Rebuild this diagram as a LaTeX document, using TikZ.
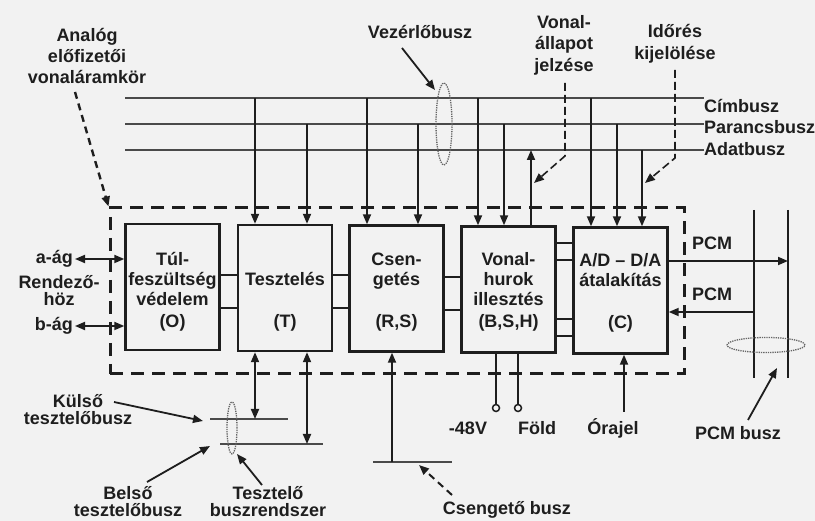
\documentclass[tikz,border=0pt]{standalone}
\usepackage{fontspec}
\setmainfont{Liberation Sans}
\usetikzlibrary{arrows.meta,shapes.geometric}
\definecolor{ink}{HTML}{1E1E1E}
\definecolor{paper}{HTML}{F2F2F2}
\definecolor{busc}{HTML}{4A4A4A}
\begin{document}
\begin{tikzpicture}[x=1pt,y=-1pt,
  >={Triangle[length=10pt,width=8pt]},
  lab/.style={font=\fontsize{18}{20}\selectfont\bfseries, text=ink, align=center, inner sep=0pt},
  tight/.style={lab, font=\fontsize{18}{17}\selectfont\bfseries},
  toplab/.style={lab, font=\fontsize{18}{21.5}\selectfont\bfseries},
  blk/.style={draw=ink, line width=2.4pt, minimum width=94pt, minimum height=126pt, inner sep=0pt},
  outline/.style={draw=ink, line width=3pt, dash pattern=on 13pt off 8pt, minimum width=574pt, minimum height=166pt, inner sep=0pt},
  bus/.style={draw=busc, line width=2.4pt},
  wire/.style={draw=ink, line width=1.8pt},
  arr/.style={wire, ->},
  darr/.style={wire, <->},
  link/.style={draw=ink, line width=1.5pt},
  dsh/.style={draw=ink, line width=1.6pt, dash pattern=on 8pt off 4pt, ->},
  dshb/.style={draw=ink, line width=2.4pt, dash pattern=on 7pt off 5pt, ->},
  ring/.style={ellipse, draw=black!60, line width=1.3pt, densely dotted, inner sep=0pt},
  term/.style={circle, draw=ink, line width=1.5pt, fill=paper, minimum size=7pt, inner sep=0pt},
]
\fill[paper] (0,0) rectangle (815,521);
\useasboundingbox (0,0) rectangle (815,521);

% frame
\node[outline] (frm) at (397,291) {};

% boxes
\node[blk] (O) at (172.5,287) {};
\node[blk] (T) at (285,288) {};
\node[blk] (RS) at (396.5,288.5) {};
\node[blk] (BSH) at (508.5,289.5) {};
\node[blk] (C) at (620.5,290.5) {};

\node[lab] (tO) at (172.5,292) {Túl-\\feszültség\\védelem\\[2pt](O)};
\node[lab] (tT) at (285,302) {Tesztelés\\[22pt](T)};
\node[lab] (tRS) at (396.5,292) {Csen-\\getés\\[22pt](R,S)};
\node[lab] (tBSH) at (508.5,292) {Vonal-\\hurok\\illesztés\\[2pt](B,S,H)};
\node[lab] (tC) at (620.5,292.5) {A/D – D/A\\átalakítás\\[22pt](C)};

% links between boxes
\foreach \y in {275,308} \draw[link] (O.east |- 0,\y) -- (T.west |- 0,\y);
\foreach \y in {275,308} \draw[link] (T.east |- 0,\y) -- (RS.west |- 0,\y);
\foreach \y in {277,310} \draw[link] (RS.east |- 0,\y) -- (BSH.west |- 0,\y);
\foreach \y in {243,260,319,336} \draw[link] (BSH.east |- 0,\y) -- (C.west |- 0,\y);

% buses
\coordinate (cimL) at (125,98);
\coordinate (parL) at (125,124);
\coordinate (adatL) at (125,150);
\node[lab, anchor=west] (cim) at (704,106) {Címbusz};
\node[lab, anchor=west] (par) at (704,127) {Parancsbusz};
\node[lab, anchor=west] (adat) at (704,149) {Adatbusz};
\draw[bus] (cimL) -- (cimL -| cim.west);
\draw[bus] (parL) -- (parL -| par.west);
\draw[bus] (adatL) -- (adatL -| adat.west);

\foreach \x/\b/\t in {255/cimL/T, 307/parL/T, 367/cimL/RS, 418/parL/RS, 478/cimL/BSH, 504/parL/BSH, 591/cimL/C, 617/parL/C, 642/adatL/C}
  \draw[arr] (\x,0 |- \b) -- (\x,0 |- \t.north);
\draw[arr] (531,0 |- BSH.north) -- (531,0 |- adatL);

% top labels
\node[lab] (vez) at (420,32) {Vezérlőbusz};
\node[ring, minimum width=16pt, minimum height=82pt] (e1) at (444,124) {};
\coordinate (vezA) at (402,48);
\coordinate (vezB) at (435,90);
\draw[arr] (vezA) -- (vezB);

\node[toplab] (vap) at (564,45) {Vonal-\\állapot\\jelzése};
\coordinate (vapA) at (565,83);
\coordinate (vapB) at (565,156);
\coordinate (vapC) at (534,183);
\draw[dsh] (vapA) -- (vapB) -- (vapC);

\node[toplab] (ido) at (675,44) {Időrés\\kijelölése};
\coordinate (idoA) at (675,70);
\coordinate (idoB) at (675,158);
\coordinate (idoC) at (645,183);
\draw[dsh] (idoA) -- (idoB) -- (idoC);

\node[toplab, font=\fontsize{18}{21}\selectfont\bfseries] (ana) at (87,56) {Analóg\\előfizetői\\vonaláramkör};
\coordinate (anaA) at (75,92);
\draw[dshb] (anaA) -- (frm.north west);

% left
\node[lab, anchor=east] (aag) at (73,259) {a-ág};
\node[tight] (rend) at (59,291) {Rendező-\\höz};
\node[lab, anchor=east] (bag) at (73,326) {b-ág};
\draw[darr] ([xshift=2pt]aag.east) -- (O.west |- aag.east);
\draw[darr] ([xshift=2pt]bag.east) -- (O.west |- bag.east);

% test buses
\coordinate (kulL) at (210,419);
\coordinate (kulR) at (288,419);
\coordinate (belL) at (220,444);
\coordinate (belR) at (323,444);
\draw[bus] (kulL) -- (kulR);
\draw[bus] (belL) -- (belR);
\draw[darr] (255,0 |- T.south) -- (255,0 |- kulL);
\draw[darr] (307,0 |- T.south) -- (307,0 |- belL);
\node[ring, minimum width=10pt, minimum height=52pt] (e2) at (232,428) {};

\node[tight] (kul) at (78,410) {Külső\\tesztelőbusz};
\node[tight] (bel) at (128,502) {Belső\\tesztelőbusz};
\node[tight] (tbr) at (268,502) {Tesztelő\\buszrendszer};
\coordinate (kulA) at (114,402);
\coordinate (kulB) at (203,421);
\coordinate (belA) at (147,482);
\coordinate (belB) at (210,446);
\coordinate (tbrA) at (262,485);
\coordinate (tbrB) at (237,454);
\draw[arr] (kulA) -- (kulB);
\draw[arr] (belA) -- (belB);
\draw[arr] (tbrA) -- (tbrB);

% ringing bus
\coordinate (csL) at (373,462);
\coordinate (csR) at (452,462);
\draw[bus] (csL) -- (csR);
\draw[arr] (392,0 |- csL) -- (392,0 |- RS.south);
\node[lab] (csb) at (507,510) {Csengető busz};
\coordinate (csA) at (452,495);
\coordinate (csB) at (419,465);
\draw[dshb, line width=2pt] (csA) -- (csB);

% BSH terminals
\node[term] (m48) at (496,408) {};
\node[term] (gnd) at (518,408) {};
\draw[wire] (BSH.south -| m48) -- (m48.north);
\draw[wire] (BSH.south -| gnd) -- (gnd.north);
\node[lab] (v48) at (468,428) {-48V};
\node[lab] (fold) at (537,428) {Föld};

% clock
\coordinate (clk) at (624,412);
\draw[arr] (clk) -- (clk |- C.south);
\node[lab] (ora) at (613,428) {Órajel};

% PCM
\coordinate (p1t) at (754,210);
\coordinate (p1b) at (754,378);
\coordinate (p2t) at (788,210);
\coordinate (p2b) at (788,378);
\draw[wire, line width=2pt] (p1t) -- (p1b);
\draw[wire, line width=2pt] (p2t) -- (p2b);
\draw[arr] (C.east |- 0,261) -- (p2t |- 0,261);
\draw[arr] (p1t |- 0,312) -- (C.east |- 0,312);
\node[lab] (pcm1) at (712,243) {PCM};
\node[lab] (pcm2) at (712,294) {PCM};
\node[ring, minimum width=78pt, minimum height=15pt] (e3) at (766,345) {};
\node[lab] (pcmb) at (738,433) {PCM busz};
\coordinate (pcA) at (748,420);
\coordinate (pcB) at (777,368);
\draw[arr] (pcA) -- (pcB);
\end{tikzpicture}
\end{document}
